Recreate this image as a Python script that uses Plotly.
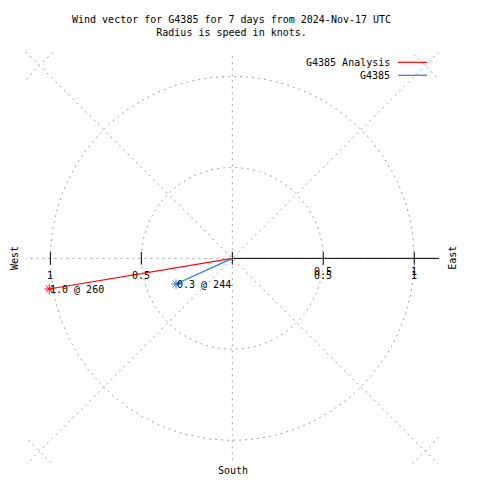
import numpy as np
import plotly.graph_objects as go

# ---- data ----
title_lines = ["Wind vector for G4385 for 7 days from 2024-Nov-17 UTC",
               "Radius is speed in knots."]
series_names = ["G4385 Analysis", "G4385"]
speeds = [1.02, 0.34]          # knots
directions = [260.5, 245.5]    # degrees clockwise from north
point_labels = ["1.0 @ 260", "0.3 @ 244"]
series_colors = ["#ff0000", "#1f80e0"]
grid_radii = [0.5, 1.0, 1.5]
radial_angles = [0, 45, 90, 135]
tick_values = [0, 0.5, 1]
tick_labels = ["0", "0.5", "1"]
west_tick_values = [0.5, 1]
west_tick_labels = ["0.5", "1"]

FONT = "DejaVu Sans Mono"
GRID = "#a0a0a0"
XR = [-1.134, 1.136]
YR = [-1.130, 1.134]

fig = go.Figure()

# grid circles
t = np.linspace(0, 2 * np.pi, 721)
for r in grid_radii:
    fig.add_trace(go.Scatter(x=r * np.cos(t), y=r * np.sin(t), mode="lines",
                             line=dict(color=GRID, width=1, dash="2px,4px"),
                             hoverinfo="skip", showlegend=False))
# radial grid lines
for a in radial_angles:
    ar = np.deg2rad(a)
    L = 2.0
    fig.add_trace(go.Scatter(x=[-L * np.cos(ar), L * np.cos(ar)],
                             y=[-L * np.sin(ar), L * np.sin(ar)], mode="lines",
                             line=dict(color=GRID, width=1, dash="2px,4px"),
                             hoverinfo="skip", showlegend=False))
# east solid radial axis
fig.add_trace(go.Scatter(x=[0, 2.0], y=[0, 0], mode="lines",
                         line=dict(color="black", width=1),
                         hoverinfo="skip", showlegend=False))
# tick marks (both sides)
tick_x = list(tick_values) + [-v for v in west_tick_values]
fig.add_trace(go.Scatter(x=tick_x, y=[0] * len(tick_x), mode="markers",
                         marker=dict(symbol="line-ns-open", size=9, color="black",
                                     line=dict(color="black", width=1)),
                         hoverinfo="skip", showlegend=False))

# wind vectors
for name, s, d, lab, c in zip(series_names, speeds, directions,
                              point_labels, series_colors):
    dr = np.deg2rad(d)
    x, y = s * np.sin(dr), s * np.cos(dr)
    fig.add_trace(go.Scatter(x=[0, x], y=[0, y], mode="lines",
                             line=dict(color=c, width=1.2), name=name,
                             showlegend=False))
    fig.add_trace(go.Scatter(x=[x], y=[y], mode="markers",
                             marker=dict(symbol="asterisk-open", size=8, color=c,
                                         line=dict(color=c, width=1)),
                             showlegend=False))
    fig.add_annotation(x=x, y=y, text=lab, showarrow=False,
                       xanchor="left", yanchor="middle", xshift=-1,
                       font=dict(family=FONT, size=10, color="black"))

ann = []
# east tick labels (drawn twice, slightly offset, as in the original)
for v, lab in zip(tick_values, tick_labels):
    for ys in (-13, -17):
        ann.append(dict(x=v, y=0, text=lab, showarrow=False, yshift=ys,
                        xanchor="center", yanchor="middle",
                        font=dict(family=FONT, size=10, color="black")))
for v, lab in zip(west_tick_values, west_tick_labels):
    ann.append(dict(x=-v, y=0, text=lab, showarrow=False, yshift=-17,
                    xanchor="center", yanchor="middle",
                    font=dict(family=FONT, size=10, color="black")))

# compass labels
ann.append(dict(xref="paper", yref="paper", x=-0.029, y=0.5, text="West",
                textangle=-90, showarrow=False, xanchor="center", yanchor="middle",
                font=dict(family=FONT, size=10, color="black")))
ann.append(dict(xref="paper", yref="paper", x=1.031, y=0.5, text="East",
                textangle=-90, showarrow=False, xanchor="center", yanchor="middle",
                font=dict(family=FONT, size=10, color="black")))
ann.append(dict(xref="paper", yref="paper", x=0.5, y=-0.0146, text="South",
                showarrow=False, xanchor="center", yanchor="middle",
                font=dict(family=FONT, size=10, color="black")))

# title
ann.append(dict(xref="paper", yref="paper", x=0.4985, y=1 + (52 - 26.5) / 412,
                text="<br>".join(title_lines), showarrow=False,
                xanchor="center", yanchor="middle",
                font=dict(family=FONT, size=10, color="black")))

# custom legend (text then line sample)
shapes = []
legend_y_px = [62.3, 75.3]
for name, c, ypx in zip(series_names, series_colors, legend_y_px):
    py = 1 + (52 - ypx) / 412
    ann.append(dict(xref="paper", yref="paper", x=(391.5 - 26) / 413, y=py,
                    text=name, showarrow=False, xanchor="right", yanchor="middle",
                    font=dict(family=FONT, size=10, color="black")))
    shapes.append(dict(type="line", xref="paper", yref="paper",
                       x0=(398 - 26) / 413, x1=(427 - 26) / 413, y0=py, y1=py,
                       line=dict(color=c, width=1.2)))

fig.update_layout(
    width=480, height=480,
    margin=dict(l=26, r=41, t=52, b=16),
    paper_bgcolor="white", plot_bgcolor="white",
    showlegend=False,
    annotations=ann, shapes=shapes,
    xaxis=dict(range=XR, visible=False, fixedrange=True),
    yaxis=dict(range=YR, visible=False, fixedrange=True),
)

fig.write_html("out.html", config={"displayModeBar": False},
               post_script="document.body.style.margin='0';document.body.style.overflow='hidden';")
